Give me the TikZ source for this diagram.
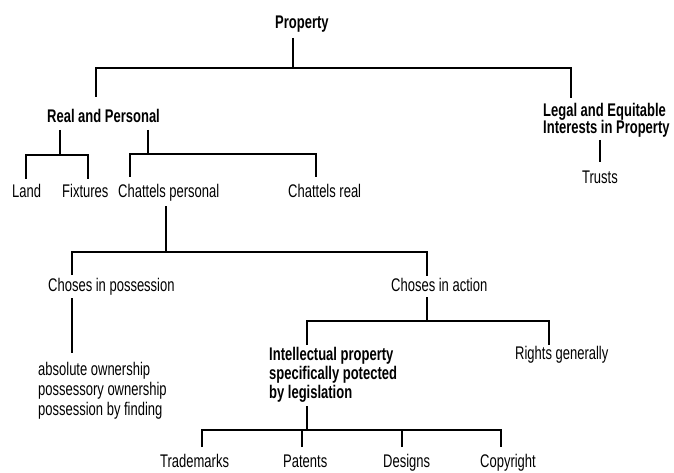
\documentclass[tikz,border=0pt]{standalone}
\usepackage{fontspec}
\setmainfont{Liberation Sans}[FakeStretch=0.71]
\begin{document}
\begin{tikzpicture}[x=1pt,y=-1pt,
  txt/.style={anchor=base west,inner sep=0pt,font=\fontsize{18.3}{20}\selectfont},
  btxt/.style={txt,font=\fontsize{18.3}{20}\selectfont\bfseries},
  link/.style={line width=1.8pt,black}]
\useasboundingbox[fill=white] (0,0) rectangle (674,473);
% nodes
\node[btxt] (prop) at (275,29) {Property};
\node[btxt] (rp) at (47,123) {Real and Personal};
\node[btxt] (leq1) at (543,117) {Legal and Equitable};
\node[btxt] (leq2) at (543,134) {Interests in Property};
\node[txt] (land) at (12,197) {Land};
\node[txt] (fix) at (62,197) {Fixtures};
\node[txt] (cp) at (118,197) {Chattels personal};
\node[txt] (cr) at (288,197) {Chattels real};
\node[txt] (tr) at (582,183) {Trusts};
\node[txt] (cip) at (48,291) {Choses in possession};
\node[txt] (cia) at (391,291) {Choses in action};
\node[txt] (ao1) at (38,375) {absolute ownership};
\node[txt] (ao2) at (38,395) {possessory ownership};
\node[txt] (ao3) at (38,415) {possession by finding};
\node[btxt] (ip1) at (269,360) {Intellectual property};
\node[btxt] (ip2) at (269,379) {specifically potected};
\node[btxt] (ip3) at (269,398) {by legislation};
\node[txt] (rg) at (515,359) {Rights generally};
\node[txt] (tm) at (160,467) {Trademarks};
\node[txt] (pa) at (283,467) {Patents};
\node[txt] (de) at (383,467) {Designs};
\node[txt] (co) at (480,467) {Copyright};
% junction coordinates
\coordinate (pB) at (293,38);
\coordinate (bus0) at (293,68);
\coordinate (rpT) at (96,97);
\coordinate (leqT) at (571,98);
\coordinate (rpB1) at (60,130);
\coordinate (bus1) at (60,155);
\coordinate (landT) at (26,179);
\coordinate (fixT) at (88,179);
\coordinate (rpB2) at (148,130);
\coordinate (bus2) at (148,154);
\coordinate (cpT) at (130,177);
\coordinate (crT) at (316,177);
\coordinate (leqB) at (600,140);
\coordinate (trT) at (600,162);
\coordinate (cpB) at (166,206);
\coordinate (bus3) at (166,252);
\coordinate (cipT) at (72,275);
\coordinate (ciaT) at (427,276);
\coordinate (cipB) at (72,298);
\coordinate (aoT) at (72,353);
\coordinate (ciaB) at (427,297);
\coordinate (bus4) at (427,321);
\coordinate (ipT) at (307,345);
\coordinate (rgT) at (549,345);
\coordinate (ipB) at (307,406);
\coordinate (bus5) at (307,430);
\coordinate (tmT) at (202,447);
\coordinate (paT) at (302,447);
\coordinate (deT) at (402,447);
\coordinate (coT) at (501,447);
% connectors
\draw[link] (pB) -- (bus0);
\draw[link] (rpT) |- (bus0) -| (leqT);
\draw[link] (rpB1) -- (bus1);
\draw[link] (landT) |- (bus1) -| (fixT);
\draw[link] (rpB2) -- (bus2);
\draw[link] (cpT) |- (bus2) -| (crT);
\draw[link] (leqB) -- (trT);
\draw[link] (cpB) -- (bus3);
\draw[link] (cipT) |- (bus3) -| (ciaT);
\draw[link] (cipB) -- (aoT);
\draw[link] (ciaB) -- (bus4);
\draw[link] (ipT) |- (bus4) -| (rgT);
\draw[link] (ipB) -- (bus5);
\draw[link] (tmT) |- (bus5) -| (coT);
\draw[link] (paT) -- (paT |- bus5);
\draw[link] (deT) -- (deT |- bus5);
\end{tikzpicture}
\end{document}
